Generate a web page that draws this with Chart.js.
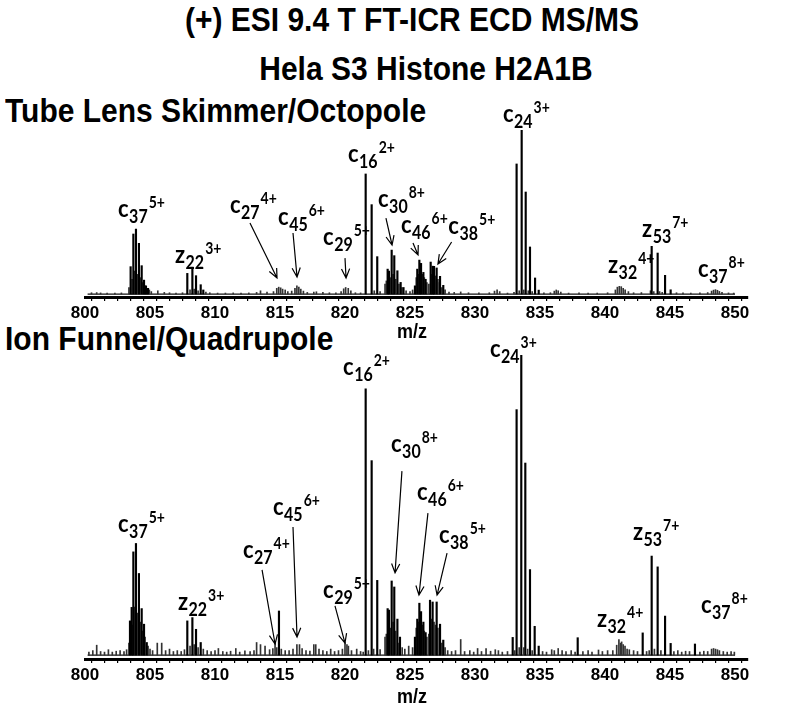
<!DOCTYPE html>
<html>
<head>
<meta charset="utf-8">
<script src="https://cdn.jsdelivr.net/npm/chart.js@4.4.0/dist/chart.umd.min.js"></script>
<style>
  body { margin:0; background:#fff; width:800px; height:720px; position:relative; overflow:hidden;
         font-family:'Liberation Sans', Arial, sans-serif; }
  .t { position:absolute; font-weight:bold; color:#000; white-space:nowrap; line-height:1;
       transform:scaleY(1.12); transform-origin:50% 0; }
  canvas { position:absolute; left:0; }
</style>
</head>
<body>
<div class="t" style="left:0;width:824px;text-align:center;top:3px;font-size:30px">(+) ESI 9.4 T FT-ICR ECD MS/MS</div>
<div class="t" style="left:0;width:852px;text-align:center;top:52px;font-size:30px">Hela S3 Histone H2A1B</div>
<div class="t" style="left:5px;top:94px;font-size:30px">Tube Lens Skimmer/Octopole</div>
<div class="t" style="left:5px;top:322px;font-size:30px">Ion Funnel/Quadrupole</div>

<canvas id="topChart" width="800" height="250" style="top:90px"></canvas>
<canvas id="botChart" width="800" height="370" style="top:330px"></canvas>

<div class="t" style="left:0;width:824px;text-align:center;top:321px;font-size:18px">m/z</div>
<div class="t" style="left:0;width:824px;text-align:center;top:686px;font-size:18px">m/z</div>

<script>
/* ---- axis ---- */
const MZ_MIN = 800, MZ_MAX = 851, MZ_LAST_LABEL = 850;
const BASELINE_START = 800.2, BASELINE_END = 850;

/* ---- Tube Lens Skimmer/Octopole: resolved peaks (m/z, rel. intensity %) ---- */
const tlMz  = [803.51,803.72,803.92,804.15,804.36,804.54,804.69,804.85,
               807.87,808.26,808.54,808.90,809.10,
               821.59,822.05,822.48,823.28,823.38,823.59,823.79,824.03,824.28,824.50,
               825.38,825.56,825.72,825.85,826.03,826.20,826.59,826.74,826.85,827.05,827.31,827.56,
               833.20,833.59,833.90,834.23,834.62,834.90,
               843.59,844.05,844.62,845.05];
const tlInt = [16.7,36.6,39.6,30.9,17.3,8.5,5.0,3.5,
               12.6,16.3,11.2,5.7,2.5,
               73.2,54.5,22.8,15.2,14.0,26.8,23.4,14.2,7.1,4.0,
               5.0,15.2,20.7,18.7,13.2,9.0,19.5,17.0,16.9,15.9,10.8,5.3,
               79.3,100,62.2,28.7,9.8,2.4,
               29.1,25.0,11.4,2.6];
/* unresolved / noise lines */
const tlMinorMz  = [800.5,800.9,801.2,801.7,802.3,802.8,803.38,803.62,803.82,804.03,804.25,804.45,804.62,804.78,804.95,805.1,
                    805.6,806.1,806.5,807.0,807.5,808.08,808.4,808.7,809.3,809.6,810.2,810.8,811.4,812.0,812.6,813.2,813.5,
                    814.0,814.5,814.75,814.9,815.05,815.2,815.4,815.6,815.9,816.15,816.3,816.45,816.6,816.8,817.1,817.6,817.8,
                    818.3,818.8,819.3,819.7,819.9,820.05,820.25,820.45,820.8,821.2,822.25,822.7,823.08,823.18,823.5,823.7,823.9,
                    824.15,824.38,824.7,825.0,825.2,825.48,825.65,825.78,825.95,826.1,826.3,826.45,826.65,826.8,826.95,827.15,
                    827.25,827.45,827.7,828.0,828.4,828.9,829.5,830.3,831.1,831.5,831.7,831.9,832.5,833.0,833.4,833.75,834.1,
                    834.4,835.3,835.8,836.1,836.25,836.4,836.6,837.2,838.0,838.7,839.4,840.2,840.8,840.95,841.1,841.25,841.4,
                    841.55,841.8,842.2,842.8,843.5,843.75,844.2,844.4,845.5,846.0,846.6,847.3,847.9,848.2,848.35,848.5,848.65,
                    848.8,849.0,849.5,849.9];
const tlMinorInt = [0.8,0.9,0.7,0.6,0.6,0.7,4.0,9.0,14.0,12.0,10.0,7.0,5.0,3.5,2.5,1.5,
                    2.0,1.0,0.8,0.6,0.8,2.5,3.0,2.0,1.2,0.8,0.6,0.6,0.7,0.6,0.7,1.0,2.0,
                    1.2,1.5,3.5,4.2,3.8,3.0,2.5,1.5,1.8,3.5,5.0,4.2,3.0,1.8,1.0,1.2,1.4,
                    1.0,0.8,0.8,1.5,3.2,4.0,3.5,2.0,0.8,0.7,2.0,1.5,6.0,8.0,10.0,12.0,9.0,
                    6.0,4.0,2.0,1.5,2.5,10.0,12.0,14.0,12.0,10.0,7.0,6.0,12.0,10.0,11.0,9.0,
                    7.0,4.0,2.5,1.2,1.0,1.3,0.8,0.7,0.8,1.8,2.5,1.5,0.6,1.0,2.0,2.5,2.0,
                    1.5,0.7,0.8,1.8,2.5,2.0,1.2,0.6,0.7,0.6,0.6,0.8,2.5,4.2,4.7,4.5,3.5,
                    2.5,1.5,0.8,0.9,2.0,1.5,1.5,1.0,0.8,0.7,0.6,0.7,0.9,1.8,2.4,2.7,2.3,
                    1.6,1.0,0.7,0.6];

/* ---- Ion Funnel/Quadrupole ---- */
const ifMz  = [803.46,803.59,803.72,803.92,804.15,804.36,804.54,804.75,
               807.87,808.26,808.54,808.90,814.92,
               821.59,822.05,822.48,823.28,823.38,823.59,823.79,824.03,824.23,
               825.38,825.56,825.72,825.85,826.03,826.20,826.54,826.74,827.05,827.31,827.56,
               832.90,833.20,833.56,833.87,834.23,834.59,834.90,837.90,
               842.90,843.59,844.05,844.62,845.05,846.92];
const ifInt = [11.4,15.9,34.4,37.2,27.2,15.5,10.3,4.2,
               11.4,12.5,8.6,4.2,14.7,
               88.7,64.8,24.9,15.5,15.0,24.7,22.7,12.0,6.0,
               6.0,12.0,17.3,14.5,11.0,7.5,18.3,17.7,17.7,10.3,5.0,
               5.9,81.8,100,64.0,28.5,9.6,3.0,5.8,
               7.4,33.0,29.4,13.0,3.9,3.7];
const ifMinorMz  = [800.3,800.6,800.9,801.2,801.5,801.8,802.1,802.4,802.7,803.0,803.2,803.38,803.65,803.82,804.03,804.25,
                    804.45,804.62,804.85,805.0,805.2,805.56,805.9,806.2,806.5,806.8,807.1,807.4,807.65,808.08,808.4,808.7,
                    809.1,809.4,809.7,810.0,810.26,810.6,810.9,811.2,811.6,811.9,812.3,812.7,813.0,813.2,813.5,813.85,814.2,
                    814.45,814.62,814.75,815.1,815.4,815.7,816.0,816.3,816.5,816.7,817.0,817.3,817.6,817.75,818.0,818.3,818.6,
                    818.9,819.2,819.5,819.8,820.0,820.15,820.26,820.5,820.9,821.2,821.4,821.8,822.2,822.7,823.08,823.18,823.5,
                    823.7,823.9,824.15,824.4,824.6,824.9,825.2,825.48,825.65,825.78,825.95,826.1,826.3,826.45,826.65,826.85,
                    826.95,827.15,827.45,827.7,827.9,828.2,828.5,828.9,829.2,829.6,829.9,830.2,830.5,830.85,831.2,831.56,831.8,
                    832.1,832.5,833.05,833.4,833.75,834.05,834.4,835.2,835.5,835.9,836.1,836.4,836.7,837.0,837.4,837.7,838.3,
                    838.7,839.0,839.5,839.8,840.2,840.6,840.9,841.07,841.2,841.28,841.4,841.54,841.7,841.87,842.2,842.5,843.2,
                    843.4,843.8,844.3,845.3,845.6,845.9,846.2,846.5,847.3,847.6,847.9,848.2,848.35,848.5,848.65,848.8,849.1,
                    849.4,849.7,849.95];
const ifMinorInt = [1.0,1.5,3.3,1.2,1.0,1.8,1.0,1.3,1.5,1.2,1.8,4.0,10.0,16.0,14.0,11.0,
                    8.0,6.0,3.0,2.0,1.5,4.0,4.0,1.5,2.0,1.2,1.5,1.2,1.8,3.0,3.5,2.5,
                    2.0,1.5,1.2,1.5,2.2,1.2,1.0,1.3,2.2,1.0,1.4,1.2,1.5,4.2,3.5,3.0,1.8,
                    2.2,4.2,2.5,2.0,1.5,1.5,2.0,3.5,3.5,2.2,1.5,1.3,3.5,3.5,2.0,1.5,1.2,
                    2.0,1.2,1.5,2.0,4.2,3.5,3.0,1.5,2.0,1.2,1.0,1.5,2.0,1.8,6.0,7.0,9.0,
                    11.0,8.0,4.0,2.5,2.0,3.0,2.5,9.0,11.0,12.0,10.0,8.0,6.0,7.0,12.0,11.0,
                    10.0,9.0,4.0,2.5,1.5,1.2,1.5,5.2,1.2,1.5,1.0,2.2,1.2,2.2,1.3,1.8,1.5,
                    1.0,1.2,1.5,2.5,2.5,2.0,1.5,1.2,1.0,1.8,1.5,2.2,1.5,1.2,1.5,1.0,1.2,
                    1.5,1.0,1.7,1.2,1.5,1.5,3.3,5.2,4.0,4.4,3.5,3.0,2.0,1.8,1.5,1.2,1.2,
                    1.5,2.0,1.5,1.2,1.5,1.0,1.3,1.2,1.0,1.3,1.2,2.0,2.2,2.0,1.8,1.5,1.2,
                    1.0,1.2,1.0];

/* ---- fragment ion annotations: label anchor and arrow in (m/z, intensity) ---- */
const tlIons = [
  { ion:'c', sub:'37', sup:'5+', mz:802.54, at:46.9 },
  { ion:'z', sub:'22', sup:'3+', mz:806.92, at:18.9 },
  { ion:'c', sub:'27', sup:'4+', mz:811.15, at:49.4, arrow:[812.69,43.3,814.77,9.8] },
  { ion:'c', sub:'45', sup:'6+', mz:814.85, at:42.1, arrow:[816.0,37.2,816.31,10.4] },
  { ion:'c', sub:'29', sup:'5+', mz:818.31, at:29.9, arrow:[820.0,21.9,820.08,9.8] },
  { ion:'c', sub:'16', sup:'2+', mz:820.23, at:80.5 },
  { ion:'c', sub:'30', sup:'8+', mz:822.54, at:53.0, arrow:[823.15,46.3,823.62,29.9] },
  { ion:'c', sub:'46', sup:'6+', mz:824.3,  at:37.2, arrow:[825.23,31.1,825.62,23.8] },
  { ion:'c', sub:'38', sup:'5+', mz:827.95, at:36.6, arrow:[828.2,31.7,827.15,18.3] },
  { ion:'c', sub:'24', sup:'3+', mz:832.15, at:104.8 },
  { ion:'z', sub:'32', sup:'4+', mz:840.23, at:12.8 },
  { ion:'z', sub:'53', sup:'7+', mz:842.85, at:34.7 },
  { ion:'c', sub:'37', sup:'8+', mz:847.15, at:10.4 }
];
const ifIons = [
  { ion:'c', sub:'37', sup:'5+', mz:802.54, at:41.0 },
  { ion:'z', sub:'22', sup:'3+', mz:807.15, at:15.0 },
  { ion:'c', sub:'27', sup:'4+', mz:812.15, at:32.4, arrow:[813.62,28.4,814.62,3.7] },
  { ion:'c', sub:'45', sup:'6+', mz:814.46, at:46.7, arrow:[816.0,42.7,816.31,6.0] },
  { ion:'c', sub:'29', sup:'5+', mz:818.31, at:19.0, arrow:[819.23,16.4,820.0,4.0] },
  { ion:'c', sub:'16', sup:'2+', mz:819.85, at:93.3 },
  { ion:'c', sub:'30', sup:'8+', mz:823.54, at:67.7, arrow:[824.38,61.3,823.85,27.4] },
  { ion:'c', sub:'46', sup:'6+', mz:825.54, at:51.7, arrow:[826.38,47.3,825.69,20.0] },
  { ion:'c', sub:'38', sup:'5+', mz:827.23, at:37.4, arrow:[827.85,34.0,827.08,20.0] },
  { ion:'c', sub:'24', sup:'3+', mz:831.15, at:99.3 },
  { ion:'z', sub:'32', sup:'4+', mz:839.38, at:9.4 },
  { ion:'z', sub:'53', sup:'7+', mz:842.15, at:38.4 },
  { ion:'c', sub:'37', sup:'8+', mz:847.38, at:14.0 }
];

const pts = (xs, ys) => xs.map((x, i) => ({ x, y: ys[i] }));

/* draws c/z labels with sub/superscripts and open-head arrows */
const ionLabels = {
  id: 'ionLabels',
  afterDatasetsDraw(chart, args, opts) {
    const { ctx } = chart, xs = chart.scales.x, ys = chart.scales.y;
    ctx.save();
    ctx.fillStyle = '#000'; ctx.strokeStyle = '#000'; ctx.textBaseline = 'alphabetic';
    opts.ions.forEach(l => {
      const px = xs.getPixelForValue(l.mz), py = ys.getPixelForValue(l.at);
      ctx.save();
      ctx.translate(px, py);
      ctx.scale(1, 1.15);   // source glyphs are a little taller than wide
      ctx.font = 'bold 22px Lato';
      ctx.fillText(l.ion, 0, 0);
      const w1 = ctx.measureText(l.ion).width;
      ctx.font = 'bold 16px Lato';
      ctx.fillText(l.sub, w1 + 0.5, 5);
      const w2 = ctx.measureText(l.sub).width;
      ctx.font = 'bold 14px Lato';
      ctx.fillText(l.sup, w1 + w2 + 1.5, -8);
      ctx.restore();
      if (l.arrow) {
        const x1 = xs.getPixelForValue(l.arrow[0]), y1 = ys.getPixelForValue(l.arrow[1]);
        const x2 = xs.getPixelForValue(l.arrow[2]), y2 = ys.getPixelForValue(l.arrow[3]);
        const a = Math.atan2(y2 - y1, x2 - x1), h = 10;
        ctx.lineWidth = 1.2;
        ctx.beginPath();
        ctx.moveTo(x1, y1); ctx.lineTo(x2, y2);
        ctx.moveTo(x2 - h * Math.cos(a - 0.42), y2 - h * Math.sin(a - 0.42));
        ctx.lineTo(x2, y2);
        ctx.lineTo(x2 - h * Math.cos(a + 0.42), y2 - h * Math.sin(a + 0.42));
        ctx.stroke();
      }
    });
    ctx.restore();
  }
};

function buildSpectrum(canvasId, mz, inten, minorMz, minorInt, ions, yMin, pad) {
  return new Chart(document.getElementById(canvasId), {
    type: 'bar',
    data: {
      datasets: [
        { data: pts(mz, inten), backgroundColor: '#000', barThickness: 1.5, grouped: false, order: 1 },
        { data: pts(minorMz, minorInt), backgroundColor: '#333', barThickness: 1, grouped: false, order: 2 },
        { type: 'line', data: [{ x: BASELINE_START, y: 0 }, { x: BASELINE_END, y: 0 }],
          borderColor: '#111', borderWidth: 1.3, pointRadius: 0, order: 3 }
      ]
    },
    options: {
      responsive: false, animation: false,
      layout: { padding: pad },
      plugins: { legend: { display: false }, tooltip: { enabled: false }, ionLabels: { ions } },
      scales: {
        x: {
          type: 'linear', min: MZ_MIN, max: MZ_MAX, offset: false,
          afterFit: s => { s.height = 22; },
          border: { display: true, color: '#000', width: 3 },
          grid: { drawOnChartArea: false, drawTicks: true, tickLength: 4, color: '#000', lineWidth: 1.2 },
          ticks: {
            stepSize: 1, autoSkip: false, maxRotation: 0, minRotation: 0, padding: 2, color: '#000',
            font: { family: 'Liberation Sans', size: 17, weight: 'bold' },
            callback: v => (v % 5 === 0 && v <= MZ_LAST_LABEL) ? v : ''
          }
        },
        y: { display: false, min: yMin, max: 100 }
      }
    },
    plugins: [ionLabels]
  });
}

buildSpectrum('topChart', tlMz, tlInt, tlMinorMz, tlMinorInt, tlIons, -1.8,
              { left: 85, right: 52, top: 40, bottom: 21 });
buildSpectrum('botChart', ifMz, ifInt, ifMinorMz, ifMinorInt, ifIons, -1.3,
              { left: 85, right: 52, top: 25, bottom: 19 });
</script>
</body>
</html>
